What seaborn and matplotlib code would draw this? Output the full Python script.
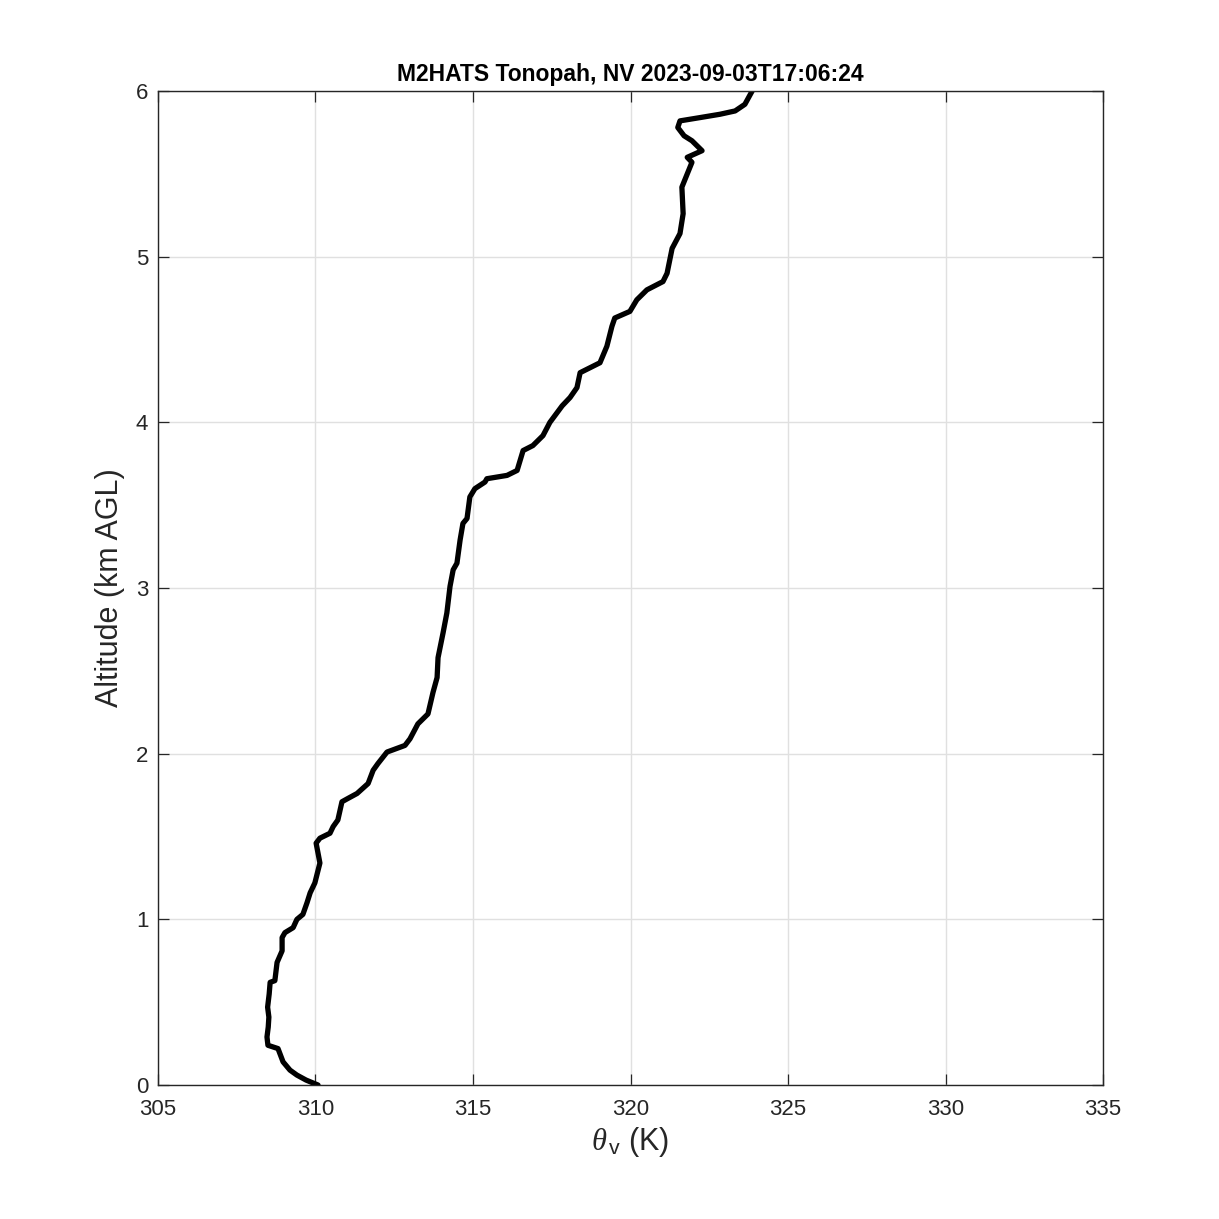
import numpy as np
import pandas as pd
import seaborn as sns
import matplotlib.pyplot as plt

# virtual potential temperature profile (K) vs altitude (km AGL)
theta_v = [310.08, 309.70, 309.41, 309.19, 308.97, 308.81, 308.49, 308.46, 308.50, 308.52,
           308.48, 308.53, 308.56, 308.71, 308.78, 308.94, 308.94, 309.03, 309.29, 309.41,
           309.60, 309.73, 309.83, 309.98, 310.14, 310.02, 310.14, 310.46, 310.56, 310.71,
           310.84, 311.03, 311.32, 311.67, 311.83, 311.98, 312.27, 312.84, 313.00, 313.25,
           313.57, 313.73, 313.86, 313.89, 314.05, 314.17, 314.27, 314.37, 314.49, 314.59,
           314.68, 314.81, 314.90, 315.06, 315.38, 315.44, 316.08, 316.40, 316.59, 316.90,
           317.22, 317.44, 317.83, 318.08, 318.30, 318.40, 319.03, 319.25, 319.41, 319.50,
           319.98, 320.20, 320.52, 321.03, 321.16, 321.32, 321.57, 321.67, 321.63, 321.95,
           321.80, 322.27, 321.95, 321.70, 321.50, 321.57, 322.21, 322.84, 323.32, 323.63,
           323.86]
altitude = [0.00, 0.03, 0.06, 0.09, 0.14, 0.22, 0.24, 0.29, 0.35, 0.41,
            0.47, 0.55, 0.62, 0.63, 0.74, 0.81, 0.89, 0.92, 0.95, 1.00,
            1.03, 1.10, 1.16, 1.22, 1.34, 1.46, 1.49, 1.52, 1.56, 1.60,
            1.71, 1.73, 1.76, 1.82, 1.90, 1.94, 2.01, 2.05, 2.09, 2.18,
            2.24, 2.37, 2.46, 2.58, 2.73, 2.85, 3.01, 3.11, 3.15, 3.29,
            3.39, 3.42, 3.55, 3.60, 3.64, 3.66, 3.68, 3.71, 3.83, 3.86,
            3.92, 4.00, 4.10, 4.15, 4.21, 4.30, 4.36, 4.46, 4.58, 4.63,
            4.67, 4.74, 4.80, 4.85, 4.90, 5.05, 5.14, 5.26, 5.42, 5.57,
            5.60, 5.64, 5.70, 5.73, 5.78, 5.82, 5.84, 5.86, 5.88, 5.92,
            6.00]
x_ticks = [305, 310, 315, 320, 325, 330, 335]
y_ticks = [0, 1, 2, 3, 4, 5, 6]

df = pd.DataFrame({'theta_v': theta_v, 'alt': altitude})

sns.set_theme(style='white')
plt.rcParams['font.family'] = ['Liberation Sans', 'DejaVu Sans']
plt.rcParams['mathtext.fontset'] = 'custom'
plt.rcParams['mathtext.rm'] = 'Liberation Sans'
plt.rcParams['mathtext.it'] = 'Liberation Serif:italic'

dark = '#262626'
fig = plt.figure(figsize=(12.19, 12.19), dpi=100)
ax = fig.add_axes([0.1296, 0.1099, 0.7753, 0.8154])

sns.lineplot(data=df, x='theta_v', y='alt', sort=False, estimator=None,
             color='black', lw=3.8, ax=ax)

ax.set_xlim(305, 335)
ax.set_ylim(0, 6)
ax.set_xticks(x_ticks)
ax.set_yticks(y_ticks)
ax.grid(True, color='#e0e0e0', lw=1.0)
ax.set_axisbelow(True)
for s in ax.spines.values():
    s.set_visible(True)
    s.set_color(dark)
    s.set_linewidth(1.0)
ax.tick_params(direction='in', length=8, width=0.9, colors=dark, labelsize=16,
               top=True, right=True, bottom=True, left=True)
ax.tick_params(axis='x', pad=10)
ax.tick_params(axis='y', pad=7)

ax.set_title('M2HATS Tonopah, NV 2023-09-03T17:06:24', fontsize=16.5,
             fontweight='bold', color='black', pad=7)
ax.set_xlabel(r'$\theta_{\,\mathrm{v}}$ (K)', fontsize=22, color=dark, labelpad=4)
ax.set_ylabel('Altitude (km AGL)', fontsize=22, color=dark, labelpad=8)

plt.savefig('out.png', dpi=100)
